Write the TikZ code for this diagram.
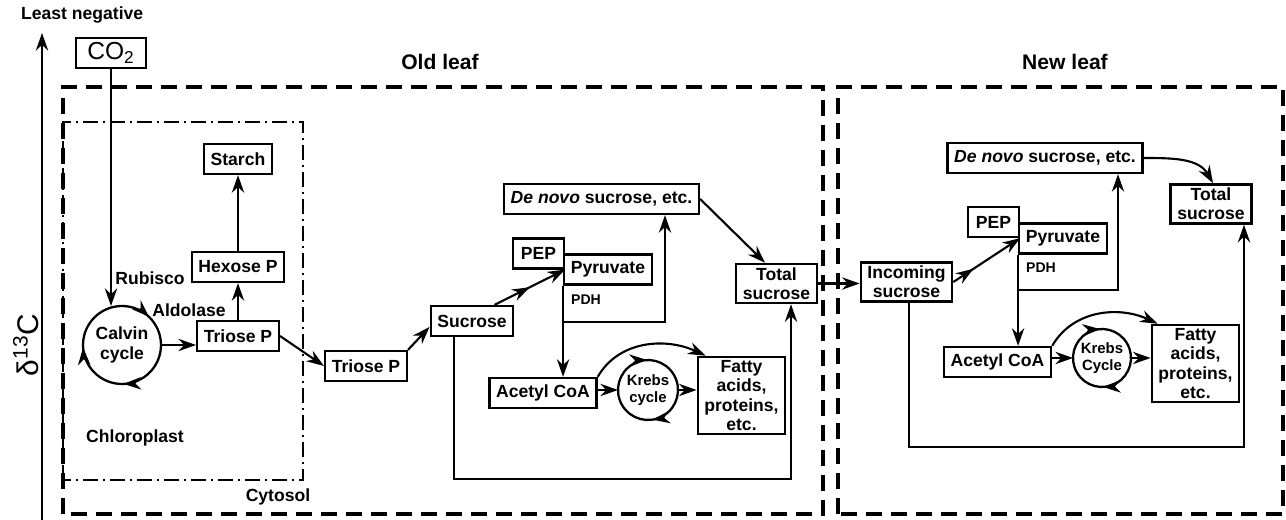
\documentclass[tikz,border=0pt]{standalone}
\usepackage{fontspec}
\setmainfont{Liberation Sans}
\usetikzlibrary{positioning, arrows.meta, calc, decorations.markings}

\begin{document}
\begin{tikzpicture}[
    x=0.02cm, y=0.02cm,
    box/.style={rectangle, draw=black, line width=1.3pt, inner xsep=3.8pt, inner ysep=2pt, minimum height=0.6cm, align=center, font=\bfseries\fontsize{10}{11}\selectfont},
    loopnode/.style={circle, inner sep=0pt, outer sep=0pt, minimum size=#1, align=center, font=\bfseries\fontsize{10}{11}\selectfont},
    lbl/.style={font=\bfseries\fontsize{10}{12}\selectfont},
    title/.style={font=\bfseries\fontsize{12}{14}\selectfont},
    arr/.style={-{Stealth[length=10pt, width=7pt]}, line width=1.2pt},
    tipat/.style={postaction={decorate, decoration={markings, mark=at position #1 with {\arrow{Stealth[length=10pt, width=7pt]}}}}},
    ring/.style={line width=1.3pt},
    leaf/.style={line width=2.4pt, dash pattern=on 0.32cm off 0.18cm},
    plastid/.style={line width=1pt, dash pattern=on 0.3cm off 0.1cm on 0.04cm off 0.1cm}
]
\useasboundingbox (0,0) rectangle (1286,520);

% d13C axis
\coordinate (axbot) at (42,0);
\coordinate (axtop) at (42,487);
\draw[arr] (axbot) -- (axtop);
\node[lbl, anchor=west] (least) at (15,505) {Least negative};
\node[rotate=90, font=\fontsize{17}{19}\selectfont] (delta) at (26,175) {δ\textsuperscript{13}C};

% compartments
\draw[leaf] (63,6) rectangle (823,433);
\draw[leaf] (838,6) rectangle (1283,433);
\draw[plastid] (63,40) rectangle (303,398);
\node[title] (oldleaf) at (440,458) {Old leaf};
\node[title] (newleaf) at (1065,458) {New leaf};
\node[lbl] (chloroplast) at (135,82) {Chloroplast};
\node[lbl] (cytosol) at (278,23) {Cytosol};

% old leaf
\node[box, font=\fontsize{14}{16}\selectfont, minimum width=1.4cm, line width=1.1pt] (co2) at (111,467) {CO\textsubscript{2}};
\node[loopnode=1.56cm] (calvin) at (122,175) {Calvin\\cycle};
\node[box] (triosec) at (238,184) {Triose P};
\node[box] (hexose) at (238,253) {Hexose P};
\node[box] (starch) at (238,361) {Starch};
\node[box] (triose) at (366,154) {Triose P};
\node[box] (sucrose) at (472,199) {Sucrose};
\node[box, minimum width=1.02cm] (pep) at (538.5,266.5) {PEP};
\node[box] (pyruvate) at (608,250.5) {Pyruvate};
\node[box] (denovo) at (601.5,321) {\textit{De novo} sucrose, etc.};
\node[box] (total) at (776.5,236.5) {Total\\sucrose};
\node[box] (acetyl) at (543,127) {Acetyl CoA};
\node[loopnode=1.2cm, font=\bfseries\fontsize{8.5}{9.5}\selectfont] (krebs) at (648,130) {Krebs\\cycle};
\node[box] (fatty) at (741.5,124.5) {Fatty\\acids,\\proteins,\\etc.};
\node[lbl] (rubisco) at (150,242) {Rubisco};
\node[lbl] (aldolase) at (189,210) {Aldolase};
\node[lbl, anchor=west, font=\bfseries\fontsize{8}{9}\selectfont] (pdh) at (565,220) {PDH};

\draw[ring, tipat=0.122, tipat=0.494, tipat=0.74] (calvin.90) arc[start angle=90, end angle=-270, radius=0.78cm];
\draw[ring, tipat=0.078, tipat=0.56] (krebs.120) arc[start angle=120, end angle=-240, radius=0.6cm];

\draw[arr] (co2.south) -- (co2.south |- calvin.north);
\draw[arr] (calvin.east) -- (calvin.east -| triosec.west);
\draw[arr] (triosec.north) -- (hexose.south);
\draw[arr] (hexose.north) -- (starch.south);
\draw[arr] (triosec.east) -- (triose.west);
\draw[arr] (triose.north east) -- (sucrose.188);
\draw[arr, tipat=0.5] ($(sucrose.north)+(22.5,0)$) -- (pep.south east);
\draw[arr] (pyruvate.south west) -- (pyruvate.south west |- acetyl.north);
\coordinate (pdhfork) at ($(pyruvate.south west)+(0,-36)$);
\draw[arr] (pdhfork) -| ($(denovo.south)+(63.5,0)$);
\draw[arr] (denovo.east) -- ($(total.north)+(-11.5,0)$);
\coordinate (sucloop) at (791,41);
\draw[arr] ($(sucrose.south)+(-18,0)$) |- (sucloop) -- (sucloop |- total.south);
\draw[arr] (krebs.west -| acetyl.east) -- (krebs.west);
\draw[arr] (krebs.east) -- (krebs.east -| fatty.west);
\draw[arr] (acetyl.north east) to[out=60, in=155] ($(fatty.north west)+(9,0)$);

% new leaf
\node[box] (incoming) at (906.5,238) {Incoming\\sucrose};
\node[box, minimum width=1.02cm] (pep2) at (993.5,298) {PEP};
\node[box] (pyruvate2) at (1063,281.5) {Pyruvate};
\node[box] (denovo2) at (1045,362) {\textit{De novo} sucrose, etc.};
\node[box] (total2) at (1211,316) {Total\\sucrose};
\node[box] (acetyl2) at (997.5,158) {Acetyl CoA};
\node[loopnode=1.16cm, font=\bfseries\fontsize{8.5}{9.5}\selectfont] (krebs2) at (1102,162) {Krebs\\Cycle};
\node[box] (fatty2) at (1195.5,156.5) {Fatty\\acids,\\proteins,\\etc.};
\node[lbl, anchor=west, font=\bfseries\fontsize{8}{9}\selectfont] (pdh2) at (1020,252) {PDH};

\draw[ring, tipat=0.072, tipat=0.578] (krebs2.120) arc[start angle=120, end angle=-240, radius=0.58cm];

\draw[arr] (total.east) -- (total.east -| incoming.west);
\draw[arr, tipat=0.3] (incoming.east) -- (pep2.south east);
\draw[arr] (pyruvate2.south west) -- (pyruvate2.south west |- acetyl2.north);
\coordinate (pdhfork2) at ($(pyruvate2.south west)+(0,-35)$);
\draw[arr] (pdhfork2) -| ($(denovo2.south)+(73,0)$);
\draw[arr] (denovo2.east) to[out=0, in=120] ($(total2.north)+(2,0)$);
\coordinate (incloop) at (1244,73);
\draw[arr] ($(incoming.south)+(2.5,0)$) |- (incloop) -- (incloop |- total2.south);
\draw[arr] (krebs2.west -| acetyl2.east) -- (krebs2.west);
\draw[arr] (krebs2.east) -- (krebs2.east -| fatty2.west);
\draw[arr] (acetyl2.north east) to[out=60, in=155] ($(fatty2.north west)+(7,0)$);
\end{tikzpicture}
\end{document}
